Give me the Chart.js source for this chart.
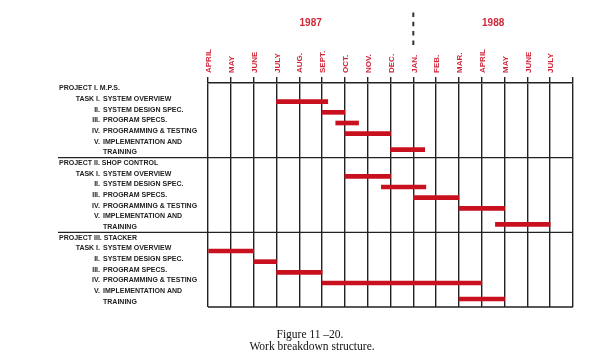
<!DOCTYPE html>
<html>
<head>
<meta charset="utf-8">
<script src="https://cdn.jsdelivr.net/npm/chart.js@4"></script>
<style>
  body { margin: 0; background: #fff; }
  #wrap { width: 601px; height: 354px; }
</style>
</head>
<body>
<div id="wrap"><canvas id="myChart" width="601" height="354"></canvas></div>
<script>
const months = ["APRIL", "MAY", "JUNE", "JULY", "AUG.", "SEPT.", "OCT.", "NOV.", "DEC.", "JAN.", "FEB.", "MAR.", "APRIL", "MAY", "JUNE", "JULY"];
const years = ["1987", "1988"];
const yearStart = [0, 9]; // month index where each year begins

const projects = ["PROJECT I. M.P.S.", "PROJECT II. SHOP CONTROL", "PROJECT III. STACKER"];
const taskNums = ["TASK I.", "II.", "III.", "IV.", "V."];
const taskNames = [["SYSTEM OVERVIEW"], ["SYSTEM DESIGN SPEC."], ["PROGRAM SPECS."], ["PROGRAMMING & TESTING"], ["IMPLEMENTATION AND", "TRAINING"]];

// start / end of each task, in months counted from April 1987
const mpsStart = [3, 5, 5.6, 6, 8];
const mpsEnd = [5.25, 6, 6.6, 8, 9.5];
const shopStart = [6, 7.6, 9, 11, 12.6];
const shopEnd = [8, 9.55, 11, 13, 15];
const stackerStart = [0, 2, 3, 5, 11];
const stackerEnd = [2, 3, 5, 12, 13];

const captionLines = ["Figure 11 \u201320.", "Work breakdown structure."];

const RED = "#c8101e";
const LABEL_RED = "#d0283a";
const INK = "#222";
const BAR_SHIFT = 0.25;

// one text line per row; bars sit in the middle of their task's lines
const starts = [mpsStart, shopStart, stackerStart];
const ends = [mpsEnd, shopEnd, stackerEnd];
let lines = [];
let projectRows = [];
let bars = [];
projects.forEach((p, pi) => {
    projectRows.push(lines.length);
    lines.push({ kind: "project", text: p });
    taskNames.forEach((names, ti) => {
        const first = lines.length;
        names.forEach((n, k) => lines.push({ kind: "task", num: k === 0 ? taskNums[ti] : "", text: n }));
        const mid = (first + lines.length) / 2;
        bars.push({ x: [starts[pi][ti], ends[pi][ti]], y: mid + BAR_SHIFT });
    });
});

const drawing = {
    id: "drawing",
    beforeDraw(chart) {
        const c = chart.ctx;
        c.save();
        c.fillStyle = "#fff";
        c.fillRect(0, 0, chart.width, chart.height);
        c.restore();
    },
    afterDraw(chart) {
        const c = chart.ctx;
        const xs = chart.scales.x;
        const ys = chart.scales.y;
        const area = chart.chartArea;
        c.save();

        // horizontal rules
        c.strokeStyle = INK;
        c.lineWidth = 1.4;
        c.beginPath();
        let yb = ys.getPixelForValue(lines.length);
        c.moveTo(area.left, yb); c.lineTo(area.right, yb);
        projectRows.slice(1).forEach(r => {
            let y = ys.getPixelForValue(r);
            c.moveTo(58, y); c.lineTo(area.right, y);
        });
        c.stroke();

        // month labels
        c.fillStyle = LABEL_RED;
        c.font = "bold 8px 'Liberation Sans', Arial, sans-serif";
        c.textAlign = "left";
        c.textBaseline = "middle";
        months.forEach((m, i) => {
            const x = xs.getPixelForValue(i);
            c.save();
            c.translate(x + 1, area.top - 10);
            c.rotate(-Math.PI / 2);
            c.fillText(m, 0, 0);
            c.restore();
        });

        // year labels
        c.font = "bold 10px 'Liberation Sans', Arial, sans-serif";
        c.textAlign = "center";
        years.forEach((yr, i) => {
            const endM = i + 1 < yearStart.length ? yearStart[i + 1] : months.length;
            const x = xs.getPixelForValue((yearStart[i] + endM) / 2);
            c.fillText(yr, x, 23);
        });

        // dashed year divider
        c.strokeStyle = "#333";
        c.lineWidth = 2;
        c.setLineDash([4.5, 4.8]);
        c.beginPath();
        const xd = xs.getPixelForValue(yearStart[1]);
        c.moveTo(xd, 12.5); c.lineTo(xd, 46);
        c.stroke();
        c.setLineDash([]);

        // row labels
        c.fillStyle = INK;
        c.font = "bold 7px 'Liberation Sans', Arial, sans-serif";
        c.textBaseline = "middle";
        lines.forEach((ln, i) => {
            const y = ys.getPixelForValue(i + 0.5);
            if (ln.kind === "project") {
                c.textAlign = "left";
                c.fillText(ln.text, 59, y);
            } else {
                if (ln.num) {
                    c.textAlign = "right";
                    c.fillText(ln.num, 100, y);
                    c.textAlign = "left";
                    c.fillText(ln.text, 103, y);
                } else {
                    c.textAlign = "left";
                    c.fillText(ln.text, 103, y);
                }
            }
        });

        // caption
        c.fillStyle = "#111";
        c.font = "11.5px 'Liberation Serif', 'Times New Roman', serif";
        c.textAlign = "center";
        c.fillText(captionLines[0], 310, 335);
        c.fillText(captionLines[1], 312, 347);

        c.restore();
    }
};

const ctx = document.getElementById("myChart").getContext("2d");
const chart = new Chart(ctx, {
    type: "bar",
    data: {
        datasets: [{
            data: bars,
            backgroundColor: RED,
            borderWidth: 0,
            barThickness: 4
        }]
    },
    options: {
        indexAxis: "y",
        responsive: false,
        animation: false,
        layout: { padding: { left: 208, right: 28, top: 77, bottom: 47 } },
        plugins: { legend: { display: false }, tooltip: { enabled: false } },
        scales: {
            x: {
                type: "linear",
                position: "top",
                min: 0,
                max: months.length,
                ticks: { display: false, stepSize: 1 },
                grid: { color: INK, lineWidth: 1.4, tickLength: 6, drawTicks: true },
                border: { display: true, color: INK, width: 1.4 }
            },
            y: {
                type: "linear",
                reverse: true,
                offset: false,
                min: 0,
                max: lines.length,
                display: false,
                grid: { offset: false }
            }
        }
    },
    plugins: [drawing]
});
</script>
</body>
</html>
